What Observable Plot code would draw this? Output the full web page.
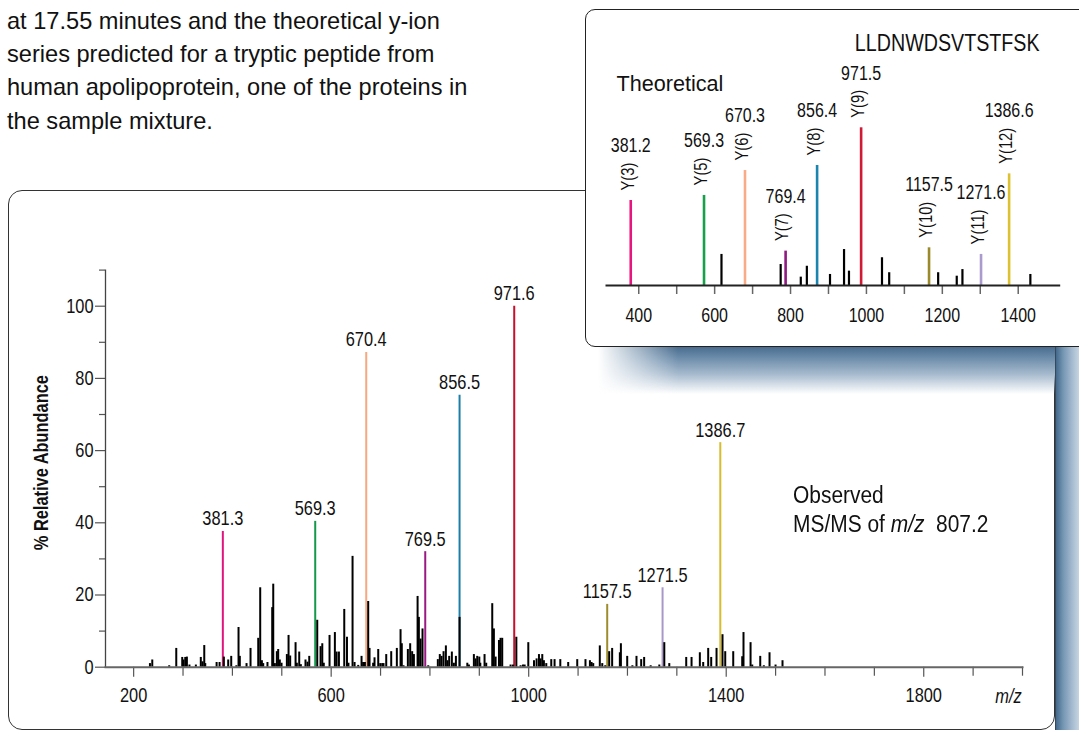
<!DOCTYPE html>
<html>
<head>
<meta charset="utf-8">
<script src="https://cdn.jsdelivr.net/npm/d3@7"></script>
<script src="https://cdn.jsdelivr.net/npm/@observablehq/plot@0.6"></script>
<style>
  html, body { margin: 0; padding: 0; background: #fff; }
  #page { position: relative; width: 1079px; height: 730px; overflow: hidden; background: #fff; color: #111; }
  .para { position: absolute; left: 7px; top: -28.6px; font-family: "Liberation Sans", Arial, sans-serif; font-size: 23.6px; line-height: 33.3px; white-space: nowrap; }
  .main-panel { position: absolute; left: 8px; top: 190px; width: 1047px; height: 540px; box-sizing: border-box; border: 1.5px solid #333; border-radius: 14px; background: #fff; }
  .shadow-right { position: absolute; left: 1055px; top: 347px; width: 24px; height: 383px; background: linear-gradient(to right, #43688b 0%, #7395b2 30%, #aabfd2 75%, #c6d4e1 100%); border-left: 1px solid #33495e; box-sizing: border-box; }
  .shadow-band { position: absolute; left: 598px; top: 346px; width: 458px; height: 48px; background: linear-gradient(to bottom, #46698c 0%, #6d8dab 25%, #a9bccf 60%, rgba(255,255,255,0) 100%); -webkit-mask-image: linear-gradient(to right, transparent 0px, #000 80px); mask-image: linear-gradient(to right, transparent 0px, #000 80px); }
  .inset-panel { position: absolute; left: 585px; top: 9px; width: 540px; height: 338px; box-sizing: border-box; border: 1.5px solid #222; border-radius: 10px; background: #fff; }
  #main { position: absolute; left: 0; top: 0; }
  #inset { position: absolute; left: 585px; top: 9px; }
  .observed { position: absolute; left: 792.7px; top: 481.1px; font-family: "Liberation Sans", Arial, sans-serif; font-size: 23px; line-height: 28.4px; white-space: nowrap; transform: scaleX(0.91); transform-origin: left top; }
  .observed i { font-style: italic; }
</style>
</head>
<body>
<div id="page">
  <div class="para" id="para"></div>
  <div class="main-panel"></div>
  <div class="shadow-band"></div>
  <div class="shadow-right"></div>
  <div id="main"></div>
  <div class="observed">Observed<br>MS/MS of <i>m/z</i>&nbsp; 807.2</div>
  <div class="inset-panel"></div>
  <div id="inset"></div>
</div>
<script>
// ---------- text ----------
const paraLines = [
  "The MS/MS data from the chromatographic peak",
  "at 17.55 minutes and the theoretical y-ion",
  "series predicted for a tryptic peptide from",
  "human apolipoprotein, one of the proteins in",
  "the sample mixture."
];

// ---------- observed spectrum: annotated y-ions ----------
const ionMz     = [380.6, 567.7, 671.0, 790.5, 860.0, 970.7, 1159.0, 1271.1, 1388.0];
const ionAbund  = [37.6, 40.4, 87.2, 32.0, 75.3, 100, 17.4, 22.0, 62.2];
const ionLabels = ["381.3", "569.3", "670.4", "769.5", "856.5", "971.6", "1157.5", "1271.5", "1386.7"];
const ionColors = ["#e2137d", "#12994a", "#f5a882", "#9a1884", "#1b7ea6", "#c8102e", "#9e8c2c", "#a898ca", "#d5bd2f"];

// ---------- observed spectrum: other peaks ----------
const peakMz = [
  233, 237.7, 272, 286.3, 298.4, 301, 304.5, 307.8, 313, 326, 336, 339.5, 343, 345, 368, 374,
  382.7, 391.5, 397.6, 408, 412.4, 415, 428.6, 436.7, 452.3, 456.3, 459.7, 462.4, 471, 480.6,
  482.7, 486, 490, 492.7, 496, 499.5, 510.3, 513.7, 517, 527.9, 530.5, 535.3, 538.6, 548, 552,
  555.6, 571.8, 578.5, 582, 585, 596.7, 607.5, 611, 615.7, 626.5, 632, 635, 643.3, 647.4,
  654.8, 661.5, 664.7, 668.3, 675, 677.7, 685, 687.8, 695.3, 699.4, 703.4, 706, 711.5, 721.6,
  733, 740.5, 743, 746.5, 755.3, 760, 764, 767.5, 775, 777.6, 781, 785, 796.6, 816, 820, 823.5,
  827.6, 832.3, 835.7, 839, 844.4, 848.5, 852.6, 860, 875.7, 879, 889, 892.4, 895.8, 900, 902,
  910.6, 914, 926.2, 929.5, 933, 939.8, 943, 946.4, 963.3, 968, 975, 983.6, 988.4, 991.8,
  999.2, 1010.7, 1016, 1020.8, 1024, 1027.5, 1030.8, 1035.6, 1045.7, 1052.4, 1064, 1080,
  1098.3, 1115, 1124, 1127.3, 1130.7, 1144, 1149, 1155, 1163, 1169, 1184.6, 1186.7, 1199.5,
  1210, 1218.3, 1227.8, 1233.8, 1247, 1264.5, 1274.6, 1284.7, 1319, 1329.8, 1346.6, 1353.4,
  1363.5, 1369.6, 1380.4, 1392.5, 1398, 1414.2, 1432.4, 1435, 1449.3, 1452.7, 1468.9, 1476.2,
  1487.7, 1499.9, 1514
];
const peakAbund = [
  1, 2, 0.4, 5.2, 2.7, 2, 2.7, 2.8, 0.6, 0.6, 2.7, 1.5, 6, 1, 1.3, 1.3,
  2.8, 2, 3, 0.4, 11, 3, 1, 5.2, 8, 22, 1.8, 1, 1.3, 16.5,
  23, 1, 4.3, 4.9, 2, 1.1, 3.5, 8.8, 3.1, 6.8, 1.1, 4.2, 0.7, 2, 1.4,
  3, 13, 5.7, 6.5, 1.1, 8.8, 9.6, 4.2, 4.2, 16, 8.3, 1.1, 30.7, 1.3,
  0.5, 3, 1.3, 1.3, 18.2, 5.2, 1.1, 2.6, 4.9, 1, 1, 1, 3.5, 4.3,
  5.2, 10.4, 6.5, 0.4, 4.9, 6.5, 4.3, 3.5, 19.6, 13.8, 7.8, 10.6, 0.4, 2.1, 3.5, 3,
  4.3, 5.9, 1.8, 3, 4.2, 1.1, 3, 13.8, 1.1, 0.6, 3.5, 2.3, 3, 2.8, 1.1,
  3.5, 1.1, 17.6, 10.6, 2.8, 7.4, 8, 8, 0.6, 0.6, 8.3, 0.4, 0.6, 0.6,
  6.8, 1.8, 2.3, 3.5, 2.3, 3.5, 1.8, 1, 2.1, 2.1, 2.1, 1.3,
  2.1, 2.1, 1.8, 1.3, 1, 5.9, 1, 0.4, 4.3, 5.2, 4, 6.5, 3,
  0.4, 3, 2.1, 2.7, 0.4, 0.6, 6.8, 1, 2.7, 2.7, 4, 1.3,
  5.2, 2.7, 5.2, 9, 4.3, 4.3, 2.9, 9.6, 6.8, 0.6, 3, 0.4,
  4, 0.6, 1.8
];

// ---------- theoretical spectrum (inset) ----------
const thMz    = [378.9, 572, 680, 787, 870, 986, 1165, 1302, 1376];
const thInt   = [53.9, 57.1, 72.9, 21.8, 76.1, 100, 23.9, 19.7, 70.8];
const thMass  = ["381.2", "569.3", "670.3", "769.4", "856.4", "971.5", "1157.5", "1271.6", "1386.6"];
const thIon   = ["Y(3)", "Y(5)", "Y(6)", "Y(7)", "Y(8)", "Y(9)", "Y(10)", "Y(11)", "Y(12)"];
const thColors = ["#e8157f", "#16a04c", "#f8ab86", "#8f1a82", "#1a86b0", "#d01a34", "#9a8a2a", "#a99bcd", "#dcc230"];
const thOtherMz  = [618, 774, 827, 843, 904, 941, 954, 1041, 1060, 1189, 1238, 1253, 1432];
const thOtherInt = [19.7, 13.3, 5.3, 12.2, 7, 22.8, 9.1, 17.6, 8.1, 8.1, 5.9, 10.1, 7];
const peptide = "LLDNWDSVTSTFSK";
const insetTitle = "Theoretical";

// ---------- axes ----------
const xDomainMain = [143, 2000];
const yDomainMain = [0, 110];
const xTicksMajor = [200, 600, 1000, 1400, 1800];
const xTicksMinor = [300, 400, 500, 700, 800, 900, 1100, 1200, 1300, 1500, 1600, 1700, 1900, 2000];
const yTicksMajor = [0, 20, 40, 60, 80, 100];
const yTicksMinor = [10, 30, 50, 70, 90, 110];
const xDomainInset = [315, 1508];
const insetTicksMajor = [400, 600, 800, 1000, 1200, 1400];
const insetTicksMinor = [500, 700, 900, 1100, 1300];
const yLabel = "% Relative Abundance";
const xLabel = "m/z";

const FONT = "'Liberation Sans', Arial, sans-serif";
const NARROW = 0.82; // horizontal condensing to mimic the condensed face of the figure

document.getElementById("para").innerHTML = paraLines.join("<br>");

function condense(svg, special) {
  svg.querySelectorAll("text").forEach(t => {
    const s = special[t.textContent] ?? NARROW;
    if (s === 1) return;
    const tr = t.getAttribute("transform");
    if (tr) t.setAttribute("transform", `${tr} scale(${s},1)`);
    else {
      const x = +(t.getAttribute("x") || 0);
      t.setAttribute("transform", `translate(${x},0) scale(${s},1) translate(${-x},0)`);
    }
  });
}

const ions = ionMz.map((mz, i) => ({mz, abund: ionAbund[i], label: ionLabels[i], color: ionColors[i]}));
const peaks = peakMz.map((mz, i) => ({mz, abund: peakAbund[i]}));
const fmt = d => String(d);

const mainPlot = Plot.plot({
  width: 1079,
  height: 730,
  marginLeft: 105,
  marginRight: 57,
  marginTop: 269.6,
  marginBottom: 63.3,
  x: {domain: xDomainMain, axis: null},
  y: {domain: yDomainMain, axis: null},
  color: {type: "identity"},
  style: {background: "transparent", fontFamily: FONT, color: "#111", overflow: "visible"},
  marks: [
    Plot.axisY(yTicksMinor, {tickSize: 6, tickFormat: () => "", stroke: "#555", strokeWidth: 1.2, label: null}),
    Plot.axisY(yTicksMajor, {tickSize: 10, tickPadding: 2, tickFormat: fmt, fontSize: 20, stroke: "#555", strokeWidth: 1.2, label: null}),
    Plot.axisX(xTicksMinor, {tickSize: 9, tickFormat: () => "", stroke: "#555", strokeWidth: 1.2, label: null}),
    Plot.axisX(xTicksMajor, {tickSize: 10, tickPadding: 11, tickFormat: fmt, fontSize: 20, stroke: "#555", strokeWidth: 1.2, label: null}),
    Plot.ruleX(ions, {x: "mz", y1: 0, y2: "abund", stroke: "color", strokeWidth: 2}),
    Plot.ruleX(peaks, {x: "mz", y1: 0, y2: "abund", stroke: "#000", strokeWidth: 2}),
    Plot.frame({anchor: "left", stroke: "#444", strokeWidth: 1.3}),
    Plot.frame({anchor: "bottom", stroke: "#666", strokeWidth: 2}),
    Plot.text(ions, {x: "mz", y: "abund", text: "label", dy: -6, lineAnchor: "bottom", fontSize: 20, fill: "#111"}),
    Plot.text([yLabel], {frameAnchor: "left", rotate: -90, textAnchor: "middle", lineAnchor: "middle", dx: -64, dy: -6, fontSize: 20, fontWeight: "bold", fill: "#111"}),
    Plot.text([xLabel], {frameAnchor: "bottom-right", textAnchor: "middle", lineAnchor: "middle", dx: -14, dy: 29, fontSize: 20, fontStyle: "italic", fill: "#111"})
  ]
});
condense(mainPlot, {});
document.getElementById("main").appendChild(mainPlot);

// ---------- inset ----------
const th = thMz.map((mz, i) => ({mz, v: thInt[i], mass: thMass[i], ion: thIon[i], color: thColors[i]}));
const thOther = thOtherMz.map((mz, i) => ({mz, v: thOtherInt[i]}));

const ctx = document.createElement("canvas").getContext("2d");
ctx.font = `18px ${FONT}`;
const massMarks = th.map(d => {
  const L = ctx.measureText(d.ion).width * NARROW;
  return Plot.text([d], {x: "mz", y: "v", text: "mass", dy: -(10 + L + 16.6), lineAnchor: "middle", fontSize: 19.5, fill: "#111"});
});

const insetPlot = Plot.plot({
  width: 494,
  height: 338,
  marginLeft: 21,
  marginRight: 20.3,
  marginTop: 118.3,
  marginBottom: 62,
  x: {domain: xDomainInset, axis: null},
  y: {domain: [0, 100], axis: null},
  color: {type: "identity"},
  style: {background: "transparent", fontFamily: FONT, color: "#111", overflow: "visible"},
  marks: [
    Plot.axisX(insetTicksMinor, {tickSize: 9, tickFormat: () => "", stroke: "#666", strokeWidth: 1.5, label: null}),
    Plot.axisX(insetTicksMajor, {tickSize: 9, tickPadding: 14, tickFormat: fmt, fontSize: 19.5, stroke: "#666", strokeWidth: 1.5, label: null}),
    Plot.ruleX(thOther, {x: "mz", y1: 0, y2: "v", stroke: "#000", strokeWidth: 2.2}),
    Plot.ruleX(th, {x: "mz", y1: 0, y2: "v", stroke: "color", strokeWidth: 2.6}),
    Plot.frame({anchor: "bottom", stroke: "#222", strokeWidth: 2}),
    Plot.text(th, {x: "mz", y: "v", text: "ion", rotate: -90, textAnchor: "start", dx: -3, dy: -10, fontSize: 18, fill: "#111"}),
    ...massMarks,
    Plot.text([insetTitle], {frameAnchor: "top-left", dx: 10, dy: -44, textAnchor: "start", lineAnchor: "middle", fontSize: 22.5, fill: "#111"}),
    Plot.text([peptide], {frameAnchor: "top-right", dx: -112, dy: -84, textAnchor: "middle", lineAnchor: "middle", fontSize: 24, fill: "#111"})
  ]
});
condense(insetPlot, {[insetTitle]: 0.96});
document.getElementById("inset").appendChild(insetPlot);
</script>
</body>
</html>
